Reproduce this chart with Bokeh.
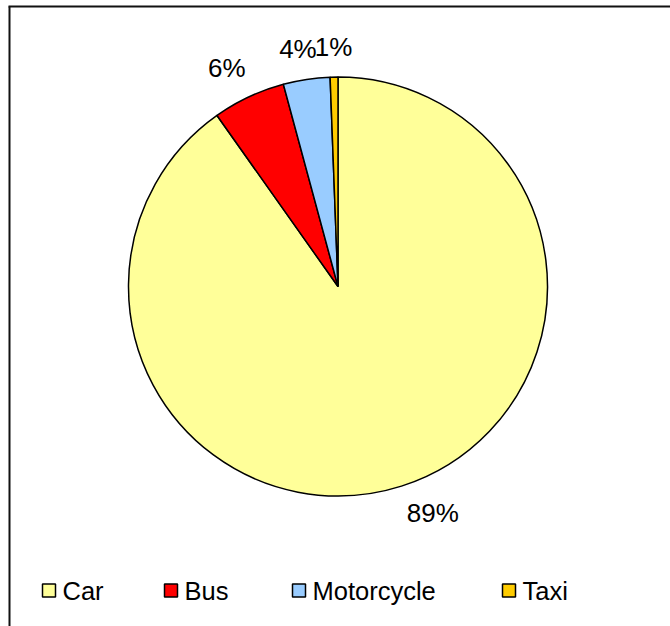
import numpy as np
from bokeh.plotting import figure
from bokeh.models import ColumnDataSource, Range1d
from bokeh.core.properties import value
from bokeh.embed import file_html
from bokeh.resources import INLINE

# ---- data ----
categories = ["Car", "Bus", "Motorcycle", "Taxi"]
shares = [90.2, 5.6, 3.6, 0.6]          # slice sizes as drawn
pct_labels = ["89%", "6%", "4%", "1%"]  # data labels as printed
colors = ["#FFFF99", "#FF0000", "#99CCFF", "#FFCC00"]

# ---- layout ----
W, H = 670, 626


def Y(py):
    return H - py


p = figure(width=W, height=H, x_range=Range1d(0, W), y_range=Range1d(0, H),
           output_backend="svg", toolbar_location=None, min_border=0)
p.axis.visible = False
p.grid.visible = False
p.outline_line_color = None
p.background_fill_color = "white"
p.border_fill_color = "white"

cx, cy, R = 337.5, Y(286), 209.5

frac = np.array(shares, dtype=float) / sum(shares)
cum = np.concatenate([[0.0], np.cumsum(frac)])
start = np.pi / 2 - cum[1:] * 2 * np.pi
end = np.pi / 2 - cum[:-1] * 2 * np.pi

src = ColumnDataSource(dict(start=start, end=end, color=colors, cat=categories))
p.wedge(x=cx, y=cy, radius=R, start_angle="start", end_angle="end",
        fill_color="color", line_color="black", line_width=1.5, source=src)

# data labels
mid = (cum[:-1] + cum[1:]) / 2 * 2 * np.pi
label_r = 240
label_nudge = {"Car": (22, 2), "Bus": (-9, 1), "Motorcycle": (-4, 0), "Taxi": (0, 0)}
lx = [cx + label_r * np.sin(a) + label_nudge[c][0] for a, c in zip(mid, categories)]
ly = [cy + label_r * np.cos(a) + label_nudge[c][1] for a, c in zip(mid, categories)]
p.text(x=lx, y=ly, text=pct_labels, text_align="center", text_baseline="middle",
       text_font=value("Liberation Sans"), text_font_size="26px", text_color="black")

# legend
legend_x = [42, 164, 292, 502]
legend_y = Y(590)
p.rect(x=[x + 6.5 for x in legend_x], y=legend_y, width=13, height=13,
       fill_color=colors, line_color="black", line_width=1.5)
p.text(x=[x + 20 for x in legend_x], y=legend_y, text=categories,
       text_align="left", text_baseline="middle",
       text_font=value("Liberation Sans"), text_font_size="25.5px", text_color="black")

# chart frame (top and left edges visible)
p.segment(x0=[8, 9], y0=[Y(6), Y(6)], x1=[670, 9], y1=[Y(6), Y(630)],
          line_color="#111111", line_width=2)

open("out.html", "w").write(file_html(p, INLINE))
